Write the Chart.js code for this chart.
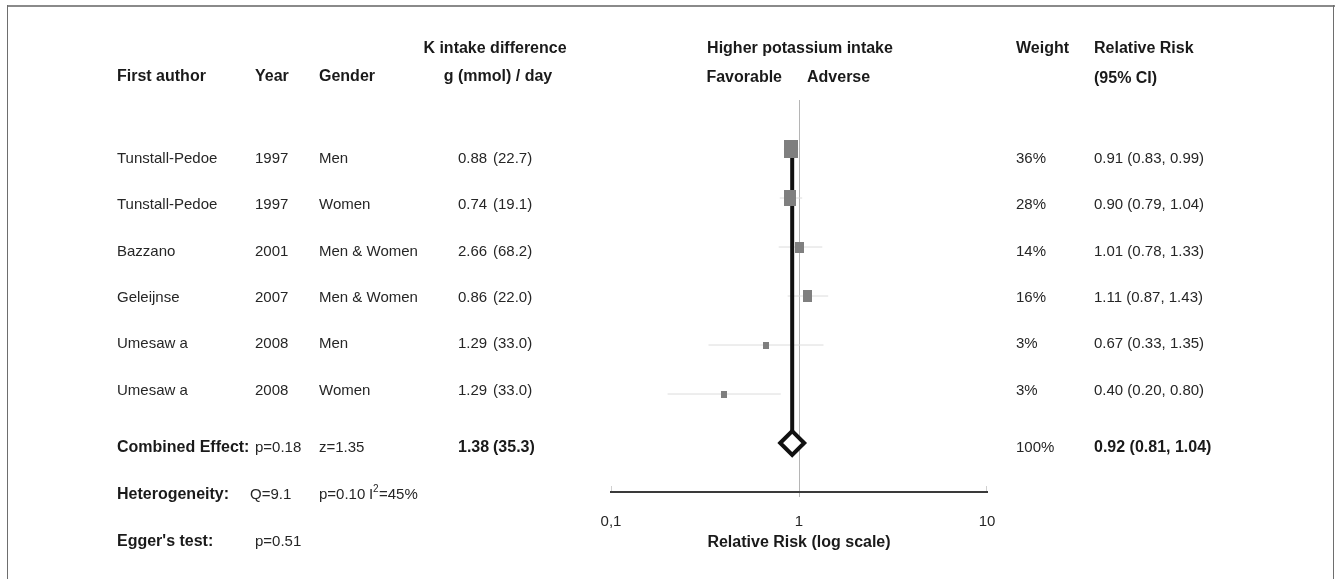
<!DOCTYPE html>
<html>
<head>
<meta charset="utf-8">
<script src="https://cdn.jsdelivr.net/npm/chart.js@4.4.1/dist/chart.umd.min.js"></script>
<style>
  html, body { margin: 0; padding: 0; background: #fff; }
  canvas { display: block; }
</style>
</head>
<body>
<canvas id="forest" width="1341" height="579"></canvas>
<script>
// Study data
var authors = ['Tunstall-Pedoe', 'Tunstall-Pedoe', 'Bazzano', 'Geleijnse', 'Umesaw a', 'Umesaw a'];
var years = [1997, 1997, 2001, 2007, 2008, 2008];
var genders = ['Men', 'Women', 'Men & Women', 'Men & Women', 'Men', 'Women'];
var intakeG = [0.88, 0.74, 2.66, 0.86, 1.29, 1.29];
var intakeMmol = [22.7, 19.1, 68.2, 22.0, 33.0, 33.0];
var weights = [36, 28, 14, 16, 3, 3];
var rr = [0.91, 0.90, 1.01, 1.11, 0.67, 0.40];
var rrLow = [0.83, 0.79, 0.78, 0.87, 0.33, 0.20];
var rrHigh = [0.99, 1.04, 1.33, 1.43, 1.35, 0.80];

// Pooled estimate
var pooled = { rr: 0.92, low: 0.81, high: 1.04, weight: 100, intakeG: 1.38, intakeMmol: 35.3 };
var combinedStats = ['p=0.18', 'z=1.35'];
var heterogeneityStats = ['Q=9.1', 'p=0.10'];
var iSquared = '45%';
var eggerStats = ['p=0.51'];

var xTicks = [0.1, 1, 10];

var FONT = '"Liberation Sans", Arial, sans-serif';
var TEXT = '#262626';
var pooledRow = rr.length;

// little grey boxes, sized by weight
function weightBox(w) {
    var bw = Math.max(6, Math.round(2.3 * Math.sqrt(w)));
    var bh = Math.max(7, Math.round(3 * Math.sqrt(w)));
    var c = document.createElement('canvas');
    c.width = bw;
    c.height = bh;
    var g = c.getContext('2d');
    g.fillStyle = '#7f7f7f';
    g.fillRect(0, 0, bw, bh);
    return c;
}

var datasets = [];

// confidence intervals
rr.forEach(function (v, i) {
    datasets.push({
        type: 'line',
        data: [{ x: rrLow[i], y: i }, { x: rrHigh[i], y: i }],
        borderColor: '#dcdcdc',
        borderWidth: 1,
        pointRadius: 0,
        order: 5
    });
});

// pooled vertical line
datasets.push({
    type: 'line',
    data: [{ x: pooled.rr, y: 0 }, { x: pooled.rr, y: pooledRow }],
    borderColor: '#111',
    borderWidth: 4,
    pointRadius: 0,
    order: 4
});

// study estimates
datasets.push({
    type: 'scatter',
    data: rr.map(function (v, i) { return { x: v, y: i }; }),
    pointStyle: weights.map(weightBox),
    pointRadius: 8,
    order: 3
});

// pooled diamond
datasets.push({
    type: 'scatter',
    data: [{ x: pooled.rr, y: pooledRow }],
    pointStyle: 'rectRot',
    pointRadius: 12,
    backgroundColor: '#fff',
    borderColor: '#111',
    borderWidth: 4,
    order: 1
});

function txt(ctx, s, x, y, bold, align) {
    ctx.font = (bold ? 'bold 16px ' : '15px ') + FONT;
    ctx.fillStyle = bold ? '#1a1a1a' : TEXT;
    ctx.textAlign = align || 'left';
    ctx.textBaseline = 'middle';
    ctx.fillText(s, x, y);
}

var tablePlugin = {
    id: 'table',
    beforeDraw: function (chart) {
        var ctx = chart.ctx;
        var x = chart.scales.x;
        var base = chart.chartArea.bottom;
        ctx.save();
        // frame
        ctx.fillStyle = '#8a8a8a';
        ctx.fillRect(7, 5, 1328, 2);
        ctx.fillStyle = '#6e6e6e';
        ctx.fillRect(7, 5, 1, 574);
        ctx.fillRect(1333, 5, 1, 574);
        // faint end ticks above the axis
        ctx.fillStyle = '#d0d0d0';
        ctx.fillRect(Math.round(x.left), base - 6, 1, 6);
        ctx.fillRect(Math.round(x.right) - 1, base - 6, 1, 6);
        ctx.restore();
    },
    afterDraw: function (chart) {
        var ctx = chart.ctx;
        var area = chart.chartArea;
        ctx.save();

        // headers
        txt(ctx, 'First author', 117, 77, true);
        txt(ctx, 'Year', 255, 77, true);
        txt(ctx, 'Gender', 319, 77, true);
        txt(ctx, 'K intake difference', 495, 49, true, 'center');
        txt(ctx, 'g (mmol) / day', 498, 77, true, 'center');
        txt(ctx, 'Higher potassium intake', 800, 49, true, 'center');
        txt(ctx, 'Favorable', 782, 78, true, 'right');
        txt(ctx, 'Adverse', 807, 78, true);
        txt(ctx, 'Weight', 1016, 49, true);
        txt(ctx, 'Relative Risk', 1094, 49, true);
        txt(ctx, '(95% CI)', 1094, 79, true);

        // study rows
        authors.forEach(function (a, i) {
            var y = 159 + i * 46.3;
            txt(ctx, a, 117, y);
            txt(ctx, String(years[i]), 255, y);
            txt(ctx, genders[i], 319, y);
            txt(ctx, intakeG[i].toFixed(2), 458, y);
            txt(ctx, '(' + intakeMmol[i].toFixed(1) + ')', 493, y);
            txt(ctx, weights[i] + '%', 1016, y);
            txt(ctx, rr[i].toFixed(2) + ' (' + rrLow[i].toFixed(2) + ', ' + rrHigh[i].toFixed(2) + ')', 1094, y);
        });

        // pooled row
        var yc = 448;
        txt(ctx, 'Combined Effect:', 117, yc, true);
        txt(ctx, combinedStats[0], 255, yc);
        txt(ctx, combinedStats[1], 319, yc);
        txt(ctx, pooled.intakeG.toFixed(2), 458, yc, true);
        txt(ctx, '(' + pooled.intakeMmol.toFixed(1) + ')', 493, yc, true);
        txt(ctx, pooled.weight + '%', 1016, yc);
        txt(ctx, pooled.rr.toFixed(2) + ' (' + pooled.low.toFixed(2) + ', ' + pooled.high.toFixed(2) + ')', 1094, yc, true);

        // heterogeneity
        var yh = 495;
        txt(ctx, 'Heterogeneity:', 117, yh, true);
        txt(ctx, heterogeneityStats[0], 250, yh);
        txt(ctx, heterogeneityStats[1], 319, yh);
        txt(ctx, 'I', 369, yh);
        ctx.font = '10px ' + FONT;
        ctx.fillText('2', 373, yh - 6);
        txt(ctx, '=' + iSquared, 379, yh);

        // Egger
        txt(ctx, "Egger's test:", 117, 542, true);
        txt(ctx, eggerStats[0], 255, 542);

        // axis title
        txt(ctx, 'Relative Risk (log scale)', (area.left + area.right) / 2, 543, true, 'center');

        ctx.restore();
    }
};

new Chart(document.getElementById('forest'), {
    type: 'scatter',
    data: { datasets: datasets },
    options: {
        responsive: false,
        animation: false,
        events: [],
        layout: { padding: { left: 611, right: 354, top: 100, bottom: 37 } },
        plugins: {
            legend: { display: false },
            tooltip: { enabled: false }
        },
        scales: {
            x: {
                type: 'logarithmic',
                position: 'bottom',
                min: 0.1,
                max: 10,
                afterBuildTicks: function (scale) {
                    scale.ticks = xTicks.map(function (v) { return { value: v }; });
                },
                afterFit: function (scale) { scale.height = 50; },
                ticks: {
                    autoSkip: false,
                    maxRotation: 0,
                    padding: 16,
                    color: TEXT,
                    font: { family: FONT, size: 15 },
                    callback: function (v) { return v === 0.1 ? '0,1' : String(v); }
                },
                grid: {
                    color: function (c) { return c.tick && c.tick.value === 1 ? '#b5b5b5' : 'rgba(0,0,0,0)'; },
                    lineWidth: 1,
                    tickLength: 5
                },
                border: { display: true, color: '#3a3a3a', width: 2 }
            },
            y: {
                type: 'linear',
                display: false,
                reverse: true,
                min: -1,
                max: 7
            }
        }
    },
    plugins: [tablePlugin]
});
</script>
</body>
</html>
